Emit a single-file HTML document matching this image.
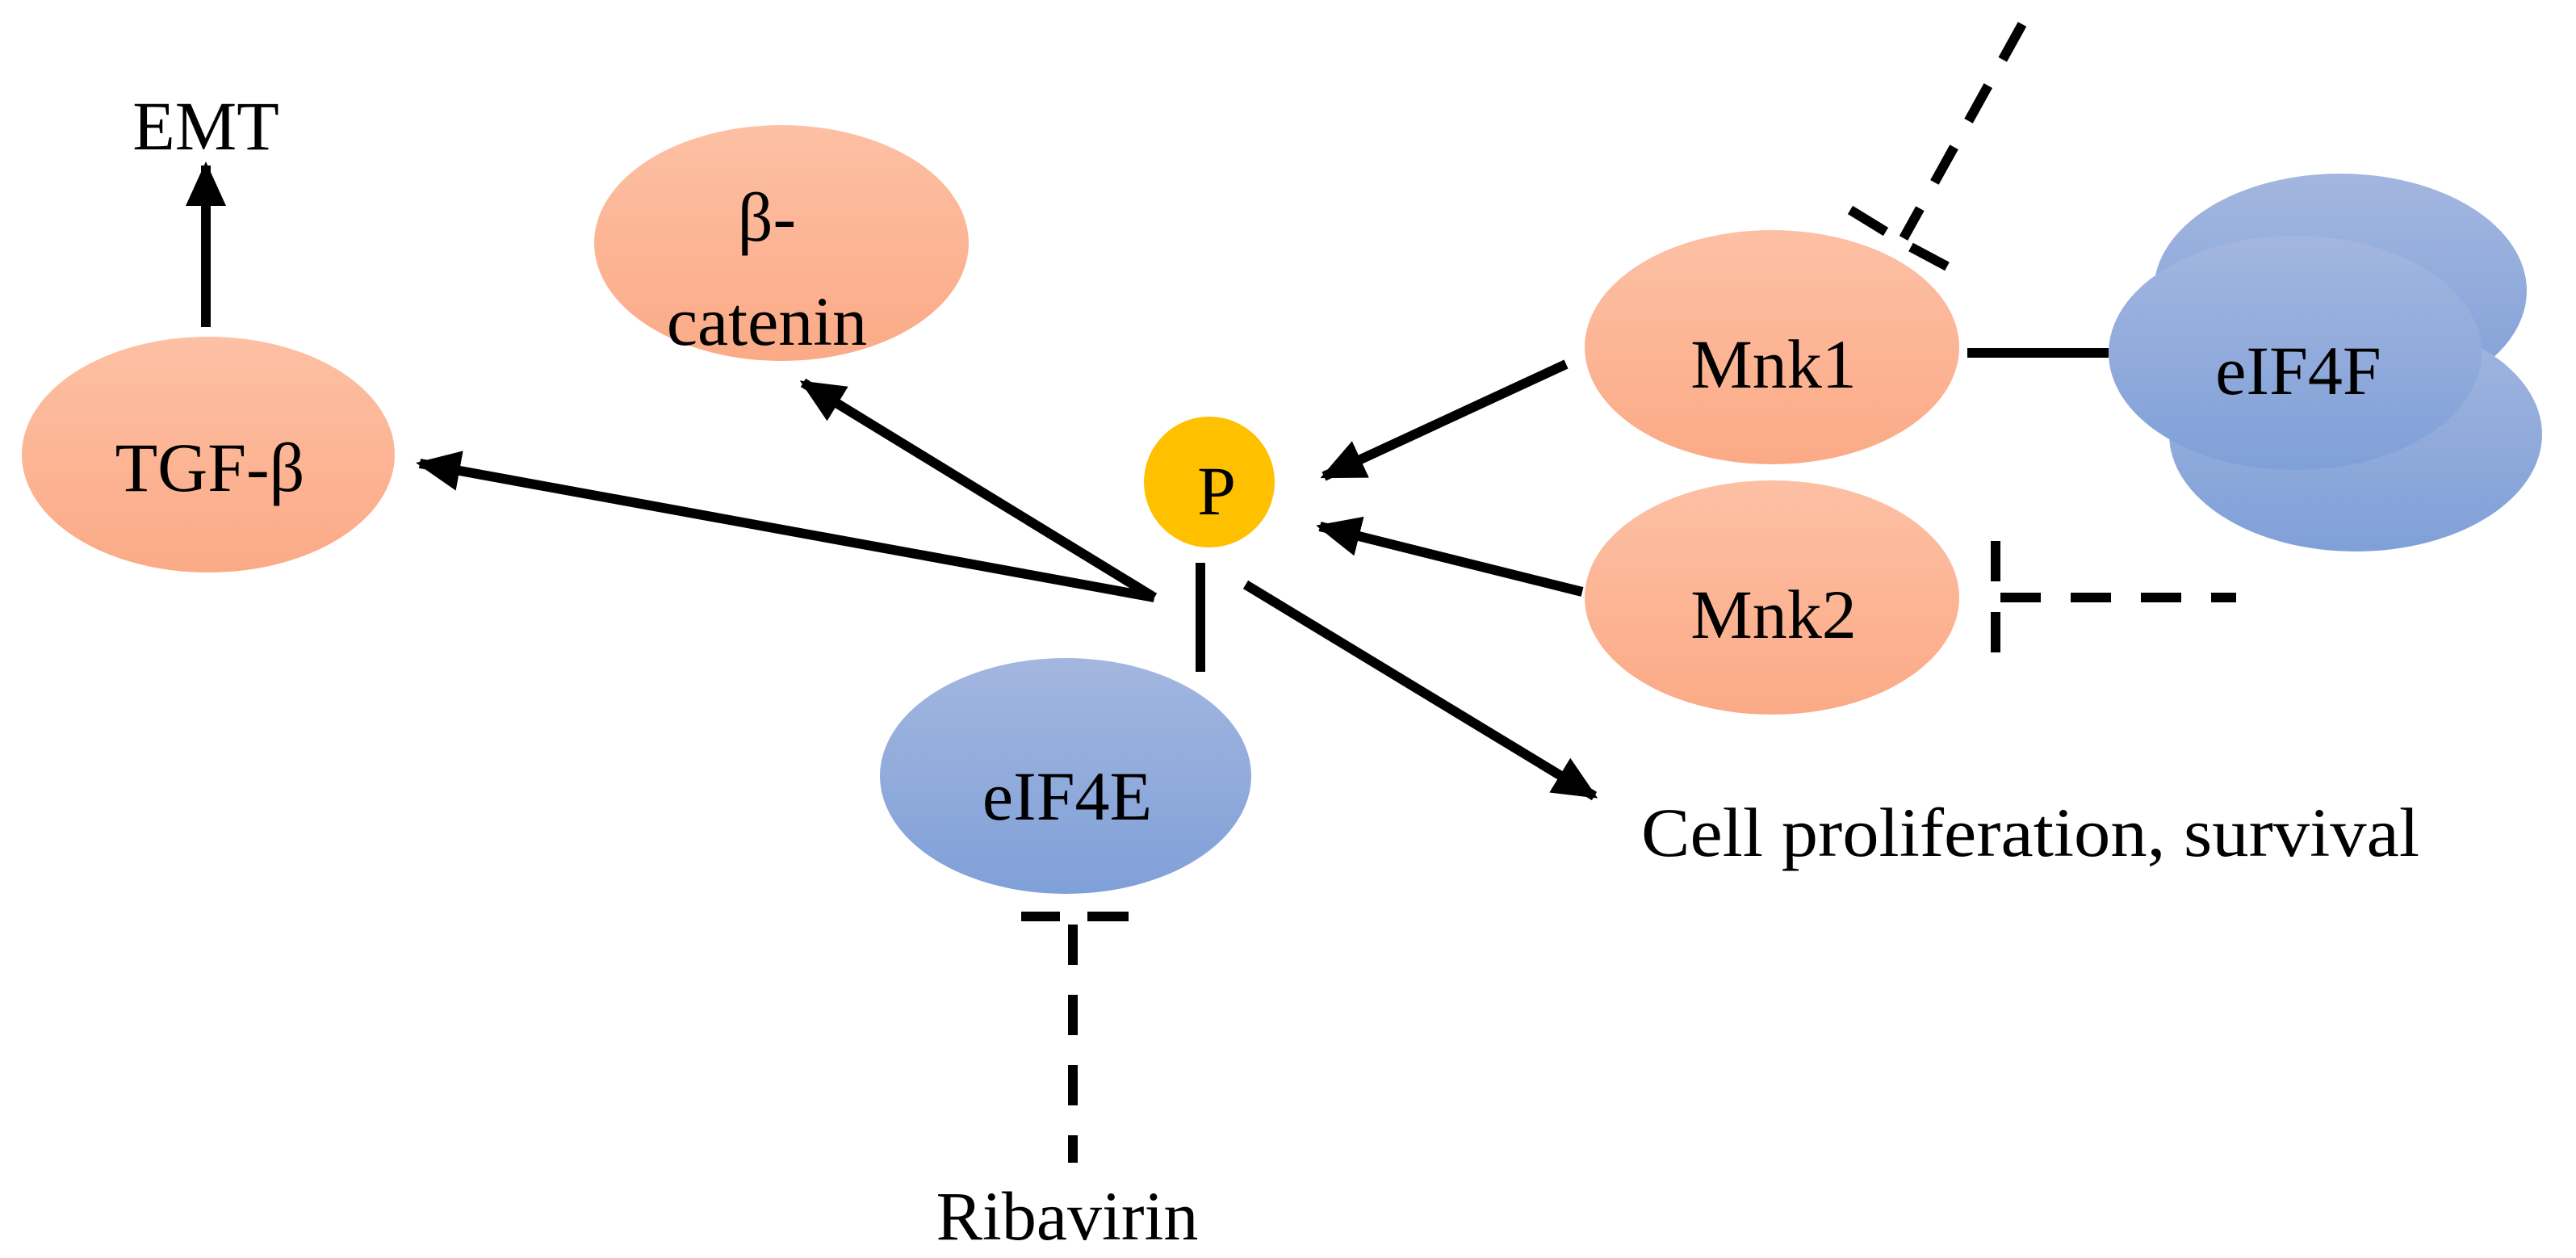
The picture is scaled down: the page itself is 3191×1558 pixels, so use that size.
<!DOCTYPE html>
<html><head><meta charset="utf-8"><style>html,body{margin:0;padding:0;background:#fff}svg{display:block}</style></head>
<body>
<svg width="3191" height="1558" viewBox="0 0 3191 1558" xmlns="http://www.w3.org/2000/svg">
<defs>
<linearGradient id="og" x1="0" y1="0" x2="0" y2="1"><stop offset="0" stop-color="#fdc0a4"/><stop offset="1" stop-color="#fbaa86"/></linearGradient>
<linearGradient id="bg" x1="0" y1="0" x2="0" y2="1"><stop offset="0" stop-color="#a3b6df"/><stop offset="1" stop-color="#7fa0d8"/></linearGradient>
<marker id="ah" markerUnits="userSpaceOnUse" markerWidth="60" markerHeight="60" refX="50" refY="25" orient="auto"><path d="M0,0 L55,25 L0,50 Z" fill="#000"/></marker>
</defs>
<g font-family="'Liberation Serif', serif" font-size="86" fill="#000" text-anchor="middle">
<!-- ellipses -->
<ellipse cx="968" cy="301" rx="232" ry="146" fill="url(#og)"/>
<ellipse cx="258" cy="563" rx="231" ry="146" fill="url(#og)"/>
<ellipse cx="1320" cy="961" rx="230" ry="146" fill="url(#bg)"/>
<ellipse cx="2195" cy="430" rx="232" ry="145" fill="url(#og)"/>
<ellipse cx="2195" cy="740" rx="232" ry="145" fill="url(#og)"/>
<ellipse cx="2899" cy="360" rx="231" ry="145" fill="url(#bg)"/>
<ellipse cx="2918" cy="538" rx="231" ry="145" fill="url(#bg)"/>
<ellipse cx="2843" cy="437" rx="231" ry="145" fill="url(#bg)"/>
<circle cx="1498" cy="597" r="81" fill="#ffc000"/>
<!-- text -->
<text x="255" y="185">EMT</text>
<text x="950" y="298">β-</text>
<text x="950" y="427">catenin</text>
<text x="260" y="608">TGF-β</text>
<text x="1507" y="637">P</text>
<text x="1322" y="1015">eIF4E</text>
<text x="1322" y="1535">Ribavirin</text>
<text x="2197" y="480">Mnk1</text>
<text x="2197" y="790">Mnk2</text>
<text x="2847" y="488">eIF4F</text>
<text x="2515" y="1060" textLength="964" lengthAdjust="spacingAndGlyphs">Cell proliferation, survival</text>
</g>
<g stroke="#000" stroke-width="12" fill="none">
<line x1="255" y1="405" x2="255" y2="205" marker-end="url(#ah)"/>
<line x1="1430" y1="740" x2="520" y2="574" marker-end="url(#ah)"/>
<line x1="1430" y1="740" x2="995" y2="474" marker-end="url(#ah)"/>
<line x1="1487" y1="697" x2="1487" y2="832"/>
<line x1="1940" y1="451" x2="1640" y2="590" marker-end="url(#ah)"/>
<line x1="1960" y1="733" x2="1635" y2="652" marker-end="url(#ah)"/>
<line x1="1543" y1="724" x2="1975" y2="986" marker-end="url(#ah)"/>
<line x1="2437" y1="437" x2="2612" y2="437"/>
<g stroke-dasharray="50,37">
<line x1="2505" y1="30" x2="2358" y2="295"/>
<line x1="1329" y1="1145" x2="1329" y2="1440"/>
<line x1="2478" y1="740" x2="2770" y2="740"/>
</g>
<line x1="1265" y1="1135" x2="1313" y2="1135"/>
<line x1="1347" y1="1135" x2="1398" y2="1135"/>
<line x1="2292" y1="260" x2="2336" y2="287"/>
<line x1="2367" y1="306" x2="2412" y2="330"/>
<line x1="2472" y1="670" x2="2472" y2="720"/>
<line x1="2472" y1="758" x2="2472" y2="808"/>
</g>
</svg>
</body></html>
